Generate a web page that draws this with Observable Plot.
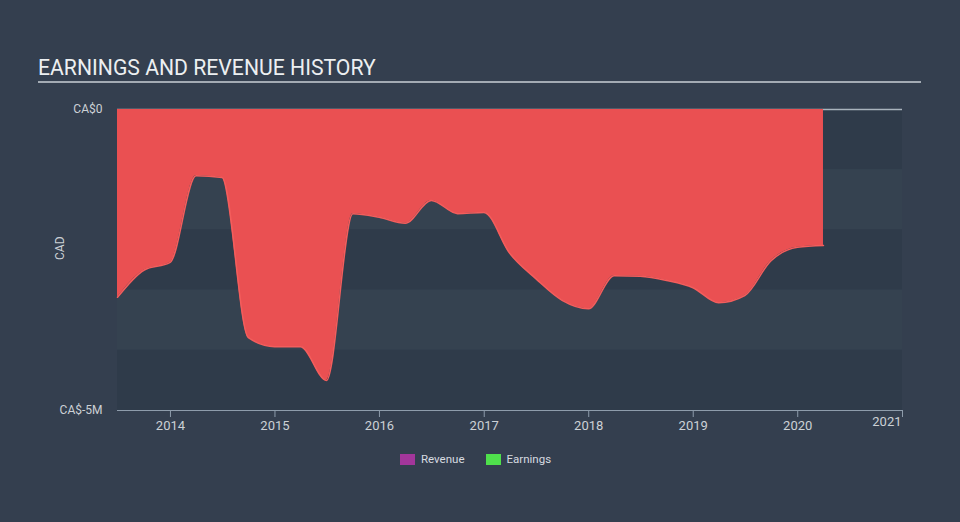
<!DOCTYPE html>
<html>
<head>
<meta charset="utf-8">
<script src="https://cdn.jsdelivr.net/npm/d3@7"></script>
<script src="https://cdn.jsdelivr.net/npm/@observablehq/plot@0.6"></script>
<style>
  html, body { margin: 0; padding: 0; background: #343f4f; }
  #wrap { width: 960px; height: 522px; overflow: hidden; font-family: Roboto, sans-serif; }
  #header { position: relative; height: 90px; }
  #title { position: absolute; left: 38px; top: 56px; font-size: 21.2px; line-height: 24px; color: #eceff1; white-space: nowrap; }
  #rule { position: absolute; left: 38px; top: 81px; width: 883px; height: 2px; background: #a3abb4; }
  #chart { height: 350px; }
  #legend { display: flex; align-items: center; padding-left: 400px; margin-top: 12px; font-size: 11.5px; color: #d7dbe0; }
  .item { display: flex; align-items: center; margin-right: 21px; }
  .sw { width: 15px; height: 11px; margin-right: 6px; }
</style>
</head>
<body>
<div id="wrap">
  <div id="header"><div id="title">EARNINGS AND REVENUE HISTORY</div><div id="rule"></div></div>
  <div id="chart"></div>
  <div id="legend"></div>
</div>
<script>
// Quarter-end dates and trailing earnings (CA$ millions)
const dates = [
  "2013-06-30","2013-09-30","2013-12-31","2014-03-31","2014-06-30","2014-09-30","2014-12-31",
  "2015-03-31","2015-06-30","2015-09-30","2015-12-31","2016-03-31","2016-06-30","2016-09-30",
  "2016-12-31","2017-03-31","2017-06-30","2017-09-30","2017-12-31","2018-03-31","2018-06-30",
  "2018-09-30","2018-12-31","2019-03-31","2019-06-30","2019-09-30","2019-12-31","2020-03-31"
];
const earnings = [
  -3.12,-2.67,-2.54,-1.10,-1.13,-3.79,-3.94,
  -3.94,-4.50,-1.73,-1.79,-1.89,-1.51,-1.73,
  -1.71,-2.39,-2.81,-3.17,-3.31,-2.76,-2.77,
  -2.84,-2.96,-3.21,-3.09,-2.51,-2.29,-2.26
];
const xDomain = ["2013-06-30", "2021-01-01"];
const yearTicks = [2014, 2015, 2016, 2017, 2018, 2019, 2020, 2021];
const yTicks = [0, -5];
const yTickLabels = ["CA$0", "CA$-5M"];
const bandEdges = [0, -1, -2, -3, -4, -5];
const bandColors = ["#2f3b4a", "#354250", "#2f3b4a", "#354250", "#2f3b4a"];
const legendLabels = ["Revenue", "Earnings"];
const legendColors = ["#a3369b", "#4fe04c"];

const data = dates.map((d, i) => ({date: new Date(d), value: earnings[i]}));
const x0 = new Date(xDomain[0]), x1 = new Date(xDomain[1]);
const bands = bandColors.map((c, i) => ({y1: bandEdges[i], y2: bandEdges[i + 1], fill: c, x1: x0, x2: x1}));
const ticks = yearTicks.map(y => new Date(Date.UTC(y, 0, 1)));
const lastTick = ticks.slice(-1);

const chart = Plot.plot({
  width: 960,
  height: 350,
  marginLeft: 117,
  marginRight: 58,
  marginTop: 19,
  marginBottom: 30,
  style: {background: "transparent", color: "#ccd1d6", fontFamily: "Roboto, sans-serif", fontSize: "13px"},
  x: {type: "utc", domain: [x0, x1]},
  y: {domain: [-5, 0]},
  marks: [
    Plot.rect(bands, {x1: "x1", x2: "x2", y1: "y1", y2: "y2", fill: "fill"}),
    Plot.ruleY([0], {stroke: "#a9b3bd", strokeWidth: 1.5}),
    Plot.areaY(data, {x: "date", y1: 0, y2: "value", curve: "monotone-x", fill: "#ea5052"}),
    Plot.lineY(data, {x: "date", y: "value", curve: "monotone-x", stroke: "#f45d5c", strokeWidth: 1.5}),
    Plot.ruleY([-5], {stroke: "#8e9cab", strokeWidth: 1.2}),
    Plot.axisX(ticks, {tickSize: 7, tickPadding: 3, stroke: "#8e9cab", fill: "#ccd1d6",
      tickFormat: d => d.getUTCFullYear() === yearTicks[yearTicks.length - 1] ? "" : String(d.getUTCFullYear()), label: null}),
    Plot.text(lastTick, {x: d => d, frameAnchor: "bottom", dy: 15, textAnchor: "end", dx: -1,
      text: d => String(d.getUTCFullYear()), fill: "#ccd1d6", fontSize: 13}),
    Plot.axisY(yTicks, {tickSize: 0, tickPadding: 15, fill: "#ccd1d6", fontSize: 12,
      tickFormat: d => yTickLabels[yTicks.indexOf(d)], label: null}),
    Plot.text(["CAD"], {frameAnchor: "left", rotate: -90, dx: -57, fill: "#ccd1d6", fontSize: 12})
  ]
});
document.getElementById("chart").appendChild(chart);

const legend = document.getElementById("legend");
legendLabels.forEach((l, i) => {
  const it = document.createElement("div");
  it.className = "item";
  it.innerHTML = `<div class="sw" style="background:${legendColors[i]}"></div><span>${l}</span>`;
  legend.appendChild(it);
});
</script>
</body>
</html>
